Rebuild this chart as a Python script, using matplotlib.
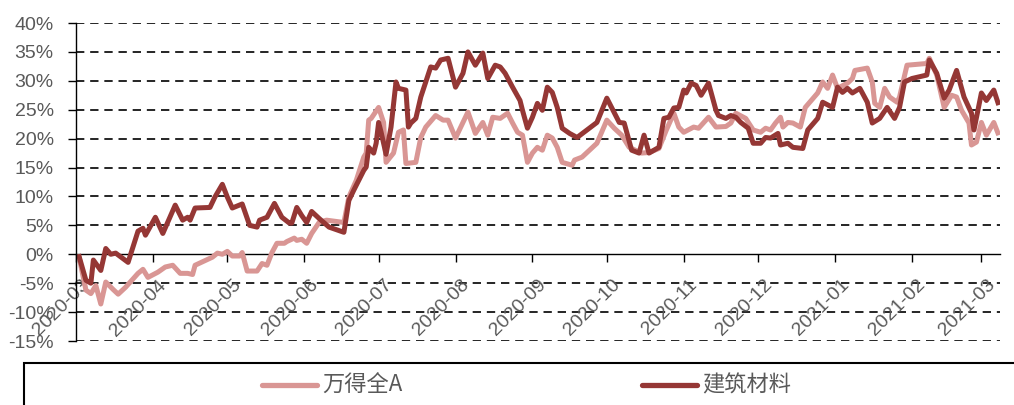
import matplotlib
matplotlib.use('Agg')
import matplotlib.pyplot as plt
from matplotlib.lines import Line2D
from matplotlib.patches import Rectangle
from matplotlib.transforms import ScaledTranslation
import pandas as pd

plt.rcParams['font.family'] = ['Liberation Sans', 'DejaVu Sans']

series_names = ['万得全A', '建筑材料']

wind_dates = ['2020-03-02','2020-03-05','2020-03-07','2020-03-09','2020-03-11','2020-03-13','2020-03-16','2020-03-18','2020-03-21','2020-03-26',
              '2020-03-28','2020-03-30','2020-04-03','2020-04-06','2020-04-09','2020-04-12','2020-04-15','2020-04-17','2020-04-18','2020-04-25',
              '2020-04-27','2020-04-29','2020-05-01','2020-05-03','2020-05-06','2020-05-07','2020-05-09','2020-05-13','2020-05-15','2020-05-17',
              '2020-05-19','2020-05-21','2020-05-24','2020-05-25','2020-05-28','2020-05-29','2020-05-31','2020-06-02','2020-06-04','2020-06-07',
              '2020-06-10','2020-06-17','2020-06-19','2020-06-22','2020-06-25','2020-06-26','2020-06-27','2020-06-28','2020-07-01','2020-07-03',
              '2020-07-04','2020-07-07','2020-07-09','2020-07-11','2020-07-12','2020-07-16','2020-07-18','2020-07-20','2020-07-24','2020-07-27',
              '2020-07-29','2020-08-01','2020-08-06','2020-08-09','2020-08-12','2020-08-14','2020-08-16','2020-08-19','2020-08-22','2020-08-24',
              '2020-08-26','2020-08-28','2020-08-30','2020-09-01','2020-09-03','2020-09-05','2020-09-07','2020-09-09','2020-09-11','2020-09-13',
              '2020-09-17','2020-09-18','2020-09-21','2020-09-27','2020-10-01','2020-10-04','2020-10-07','2020-10-10','2020-10-15','2020-10-18',
              '2020-10-22','2020-10-25','2020-10-28','2020-10-30','2020-11-01','2020-11-05','2020-11-07','2020-11-11','2020-11-14','2020-11-18',
              '2020-11-20','2020-11-22','2020-11-26','2020-11-29','2020-12-02','2020-12-04','2020-12-06','2020-12-08','2020-12-10','2020-12-11',
              '2020-12-13','2020-12-15','2020-12-18','2020-12-20','2020-12-25','2020-12-27','2020-12-29','2020-12-31','2021-01-02','2021-01-06',
              '2021-01-08','2021-01-09','2021-01-14','2021-01-16','2021-01-17','2021-01-19','2021-01-21','2021-01-23','2021-01-26','2021-01-27',
              '2021-01-30','2021-02-07','2021-02-08','2021-02-11','2021-02-14','2021-02-17','2021-02-19','2021-02-21','2021-02-24','2021-02-25',
              '2021-02-27','2021-03-01','2021-03-03','2021-03-06','2021-03-08']
wind_vals = [0.0, -6.2, -6.8, -5.4, -8.6, -4.8, -6.1, -6.9, -5.7, -3.3,
             -2.6, -4.0, -3.1, -2.2, -1.9, -3.3, -3.3, -3.5, -1.9, -0.5,
             0.2, 0.0, 0.5, -0.3, -0.3, 0.3, -2.9, -2.9, -1.6, -1.9,
             0.3, 1.9, 1.9, 2.2, 2.8, 2.4, 2.6, 1.9, 3.6, 5.5,
             5.9, 5.5, 9.9, 12.8, 16.8, 17.5, 23.2, 23.5, 25.4, 22.8,
             15.9, 17.5, 21.1, 21.5, 15.7, 15.9, 20.2, 22.0, 24.0, 23.2,
             23.2, 20.1, 24.6, 20.9, 22.8, 20.6, 23.7, 23.5, 24.4, 22.7,
             21.1, 20.6, 15.9, 17.5, 18.5, 18.0, 20.6, 20.1, 18.5, 15.9,
             15.4, 16.3, 16.8, 19.2, 23.2, 21.8, 20.6, 18.5, 17.5, 17.6,
             18.3, 21.5, 24.4, 22.0, 21.1, 22.0, 21.8, 23.7, 22.0, 22.1,
             22.7, 24.4, 23.5, 21.5, 21.1, 21.8, 21.5, 22.7, 23.7, 22.0,
             22.8, 22.7, 22.0, 25.4, 27.9, 29.8, 28.7, 31.0, 28.7, 29.6,
             30.4, 31.8, 32.2, 29.8, 26.1, 25.4, 28.7, 27.2, 26.3, 27.2,
             32.7, 33.0, 33.9, 31.0, 25.4, 27.5, 27.2, 24.9, 22.7, 18.9,
             19.4, 22.8, 20.6, 22.8, 20.6]

build_dates = ['2020-03-02','2020-03-05','2020-03-07','2020-03-08','2020-03-11','2020-03-13','2020-03-15','2020-03-17','2020-03-22','2020-03-26',
               '2020-03-28','2020-03-29','2020-04-02','2020-04-05','2020-04-10','2020-04-13','2020-04-15','2020-04-16','2020-04-18','2020-04-24',
               '2020-04-26','2020-04-29','2020-05-01','2020-05-03','2020-05-07','2020-05-10','2020-05-13','2020-05-14','2020-05-17','2020-05-20',
               '2020-05-23','2020-05-26','2020-05-27','2020-05-29','2020-05-31','2020-06-02','2020-06-04','2020-06-07','2020-06-11','2020-06-17',
               '2020-06-19','2020-06-21','2020-06-25','2020-06-26','2020-06-27','2020-06-29','2020-06-30','2020-07-01','2020-07-02','2020-07-04',
               '2020-07-06','2020-07-08','2020-07-09','2020-07-12','2020-07-13','2020-07-14','2020-07-16','2020-07-18','2020-07-22','2020-07-24',
               '2020-07-26','2020-07-29','2020-08-01','2020-08-04','2020-08-06','2020-08-09','2020-08-12','2020-08-14','2020-08-17','2020-08-19',
               '2020-08-21','2020-08-24','2020-08-27','2020-08-28','2020-08-30','2020-09-01','2020-09-03','2020-09-05','2020-09-07','2020-09-09',
               '2020-09-11','2020-09-13','2020-09-16','2020-09-19','2020-09-27','2020-10-01','2020-10-06','2020-10-08','2020-10-11','2020-10-14',
               '2020-10-16','2020-10-18','2020-10-22','2020-10-24','2020-10-26','2020-10-28','2020-10-30','2020-11-01','2020-11-02','2020-11-04',
               '2020-11-06','2020-11-08','2020-11-11','2020-11-14','2020-11-15','2020-11-18','2020-11-20','2020-11-22','2020-11-24','2020-11-27',
               '2020-11-29','2020-12-02','2020-12-04','2020-12-06','2020-12-09','2020-12-10','2020-12-13','2020-12-15','2020-12-19','2020-12-21',
               '2020-12-25','2020-12-27','2020-12-31','2021-01-02','2021-01-04','2021-01-06','2021-01-08','2021-01-11','2021-01-14','2021-01-16',
               '2021-01-19','2021-01-22','2021-01-25','2021-01-27','2021-01-29','2021-02-01','2021-02-07','2021-02-08','2021-02-11','2021-02-14',
               '2021-02-16','2021-02-19','2021-02-22','2021-02-25','2021-02-26','2021-03-01','2021-03-03','2021-03-06','2021-03-08']
build_vals = [0.0, -4.5, -5.0, -1.0, -2.8, 1.0, 0.0, 0.2, -1.4, 4.0,
              4.5, 3.3, 6.4, 3.6, 8.5, 5.9, 6.4, 5.9, 8.0, 8.1,
              9.9, 12.1, 9.9, 8.0, 8.7, 5.0, 4.7, 5.9, 6.4, 8.8,
              6.4, 5.4, 5.4, 8.1, 6.7, 5.5, 7.4, 6.2, 4.7, 3.8,
              9.3, 11.1, 14.5, 15.1, 18.5, 17.5, 19.2, 22.8, 21.1, 17.3,
              22.0, 29.8, 28.7, 28.4, 22.0, 22.7, 23.5, 27.2, 32.4, 32.2,
              33.6, 33.9, 28.9, 31.3, 35.0, 32.7, 34.8, 30.4, 32.7, 32.4,
              31.3, 28.9, 26.6, 24.9, 21.8, 23.7, 26.1, 24.9, 28.9, 28.0,
              25.4, 21.8, 20.9, 20.2, 22.8, 27.0, 22.8, 22.7, 18.0, 17.5,
              20.6, 17.5, 18.5, 23.5, 23.7, 25.3, 25.4, 28.4, 27.9, 29.6,
              29.2, 27.5, 29.6, 24.9, 24.0, 23.5, 24.0, 23.7, 22.8, 21.8,
              19.2, 19.2, 20.2, 20.1, 20.9, 18.9, 19.2, 18.5, 18.3, 21.5,
              23.5, 26.3, 25.4, 28.9, 28.0, 28.7, 27.9, 28.7, 26.3, 22.7,
              23.5, 25.4, 23.5, 25.4, 29.8, 30.4, 31.0, 33.6, 31.3, 27.0,
              28.4, 31.8, 27.2, 24.4, 21.5, 27.9, 26.6, 28.4, 25.8]

y_ticks = [-15, -10, -5, 0, 5, 10, 15, 20, 25, 30, 35, 40]
month_ticks = pd.date_range('2020-03-01', '2021-03-01', freq='MS')

c_light = '#D99694'
c_dark = '#953735'
c_text = '#595959'

W, H = 1014, 405
fig = plt.figure(figsize=(W / 100, H / 100), dpi=100)
fig.patch.set_facecolor('white')
ax = fig.add_axes([76 / W, 1 - 341 / H, (1000 - 76) / W, (341 - 23) / H])

ax.plot(pd.to_datetime(wind_dates), wind_vals, color=c_light, lw=3.6,
        solid_joinstyle='round', solid_capstyle='butt', zorder=3)
ax.plot(pd.to_datetime(build_dates), build_vals, color=c_dark, lw=3.6,
        solid_joinstyle='round', solid_capstyle='butt', zorder=4)

ax.set_xlim(pd.Timestamp('2020-03-01'), pd.Timestamp('2021-03-08 12:00'))
ax.set_ylim(-15, 40)

ax.set_yticks(y_ticks)
ax.set_yticklabels([f'{v}%' for v in y_ticks])
ax.set_xticks(month_ticks)
ax.set_xticklabels([d.strftime('%Y-%m') for d in month_ticks])

for v in y_ticks:
    if v != 0:
        ax.axhline(v, color='black', lw=1.2, dashes=(5, 3.5), zorder=1)

for s in ['top', 'right']:
    ax.spines[s].set_visible(False)
ax.spines['bottom'].set_position(('data', 0))
ax.spines['left'].set_color('black')
ax.spines['bottom'].set_color('black')
ax.spines['left'].set_linewidth(1.0)
ax.spines['bottom'].set_linewidth(1.0)
ax.spines['left'].set_zorder(5)
ax.spines['bottom'].set_zorder(2)

ax.tick_params(axis='y', direction='out', length=6, width=1, colors='black',
               labelcolor=c_text, labelsize=14, pad=10)
ax.tick_params(axis='x', direction='out', length=6, width=1, colors='black',
               labelcolor=c_text, labelsize=14, pad=10)
shift = ScaledTranslation(5 / 100, 0, fig.dpi_scale_trans)
for lab in ax.get_xticklabels():
    lab.set_rotation(45)
    lab.set_ha('right')
    lab.set_va('top')
    lab.set_rotation_mode('anchor')
    lab.set_transform(lab.get_transform() + shift)

# legend frame and entries
fig.patches.append(Rectangle((24 / W, -0.05), 1.02, 0.05 + (1 - 363 / H),
                             transform=fig.transFigure, fill=False,
                             edgecolor='#000000', lw=1.5))
ly = 1 - 385 / H
fig.add_artist(Line2D([262 / W, 317 / W], [ly, ly], color=c_light, lw=3.8,
                      solid_capstyle='round', transform=fig.transFigure))
fig.add_artist(Line2D([642 / W, 697 / W], [ly, ly], color=c_dark, lw=3.8,
                      solid_capstyle='round', transform=fig.transFigure))
fig.text(322 / W, ly, series_names[0], color=c_text, fontsize=16,
         family=['Noto Sans CJK SC', 'DejaVu Sans'], va='center', ha='left')
fig.text(702 / W, ly, series_names[1], color=c_text, fontsize=16,
         family=['Noto Sans CJK SC', 'DejaVu Sans'], va='center', ha='left')

fig.savefig('out.png', dpi=100, facecolor='white')
